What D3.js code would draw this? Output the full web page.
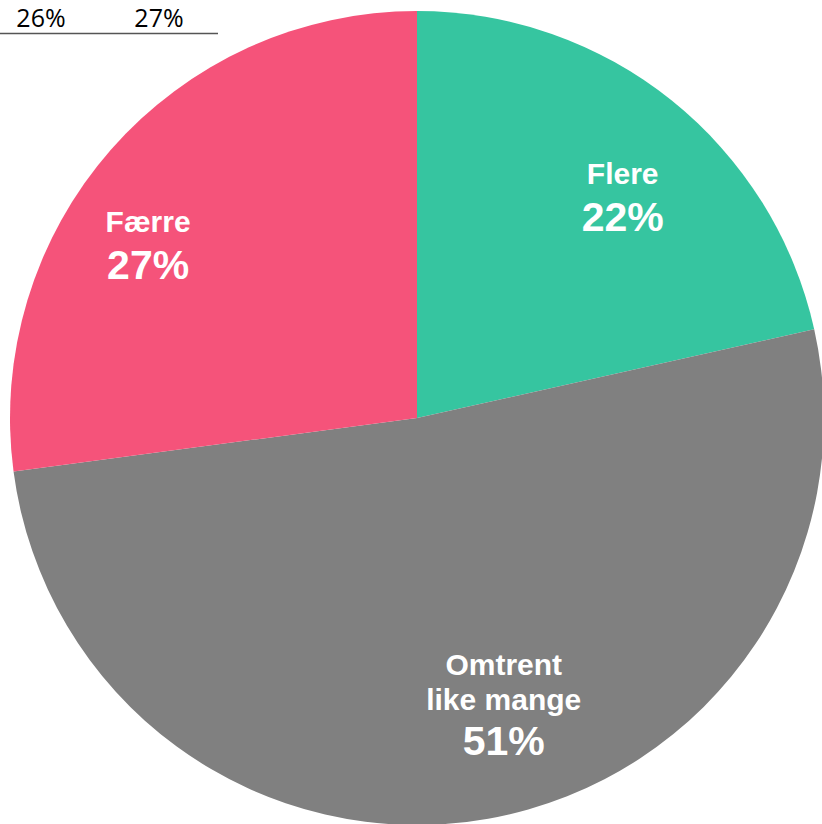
<!DOCTYPE html>
<html>
<head>
<meta charset="utf-8">
<script src="https://cdn.jsdelivr.net/npm/d3@7"></script>
<style>
  html, body { margin: 0; padding: 0; background: #fff; }
  svg { display: block; }
</style>
</head>
<body>
<svg id="chart" width="822" height="824"></svg>
<script>
// ---- data ----
const categories = ["Flere", "Omtrent like mange", "Færre"];
const nameLines = [["Flere"], ["Omtrent", "like mange"], ["Færre"]];
const values = [21.5, 51.4, 27.1];
const pctLabels = ["22%", "51%", "27%"];
const colors = ["#36C5A0", "#808080", "#F5537A"];
// fragment of a table row visible at the top-left
const topLabels = ["26%", "27%"];

// ---- layout ----
const W = 822, H = 824;
const cx = 417, cy = 418, R = 407;
// label placement (angle in degrees clockwise from top, radius)
const labelPolar = [[44.4, 294], [163.7, 309], [301.1, 314]];

const svg = d3.select("#chart");

const pie = d3.pie().sort(null).value(d => d.value).startAngle(0).endAngle(2 * Math.PI);
const arc = d3.arc().innerRadius(0).outerRadius(R);

const rows = categories.map((c, i) => ({ name: c, value: values[i], color: colors[i], lines: nameLines[i], pct: pctLabels[i], polar: labelPolar[i] }));

const g = svg.append("g").attr("transform", `translate(${cx},${cy})`);

g.selectAll("path.slice")
  .data(pie(rows))
  .join("path")
  .attr("class", "slice")
  .attr("d", arc)
  .attr("fill", d => d.data.color);

const labels = g.selectAll("g.label")
  .data(pie(rows))
  .join("g")
  .attr("class", "label")
  .attr("transform", d => {
    const a = d.data.polar[0] * Math.PI / 180, r = d.data.polar[1];
    return `translate(${r * Math.sin(a)},${-r * Math.cos(a)})`;
  });

labels.each(function(d) {
  const sel = d3.select(this);
  const n = d.data.lines.length;
  const nameGap = 35, pctGap = n > 1 ? 45 : 47;
  const total = (n - 1) * nameGap + pctGap;
  let y0 = -total / 2 + 0;
  d.data.lines.forEach((t, k) => {
    sel.append("text")
      .attr("x", 0).attr("y", y0 + k * nameGap)
      .attr("text-anchor", "middle")
      .attr("font-family", "'Liberation Sans', Arial, sans-serif")
      .attr("font-weight", "bold")
      .attr("font-size", 30)
      .attr("fill", "#fff")
      .text(t);
  });
  sel.append("text")
    .attr("x", 0).attr("y", y0 + (n - 1) * nameGap + pctGap)
    .attr("text-anchor", "middle")
    .attr("font-family", "'Liberation Sans', Arial, sans-serif")
    .attr("font-weight", "bold")
    .attr("font-size", 41)
    .attr("fill", "#fff")
    .text(d.data.pct);
});

// top-left table fragment
const xTop = d3.scalePoint().domain(topLabels).range([41, 159]);
svg.append("g").selectAll("text")
  .data(topLabels)
  .join("text")
  .attr("x", d => xTop(d))
  .attr("y", 27)
  .attr("text-anchor", "middle")
  .attr("font-family", "'Open Sans', 'Liberation Sans', sans-serif")
  .attr("font-size", 25)
  .attr("fill", "#000")
  .text(d => d);

svg.append("line")
  .attr("x1", 0).attr("x2", 218)
  .attr("y1", 33.5).attr("y2", 33.5)
  .attr("stroke", "#555")
  .attr("stroke-width", 1.5);
</script>
</body>
</html>
